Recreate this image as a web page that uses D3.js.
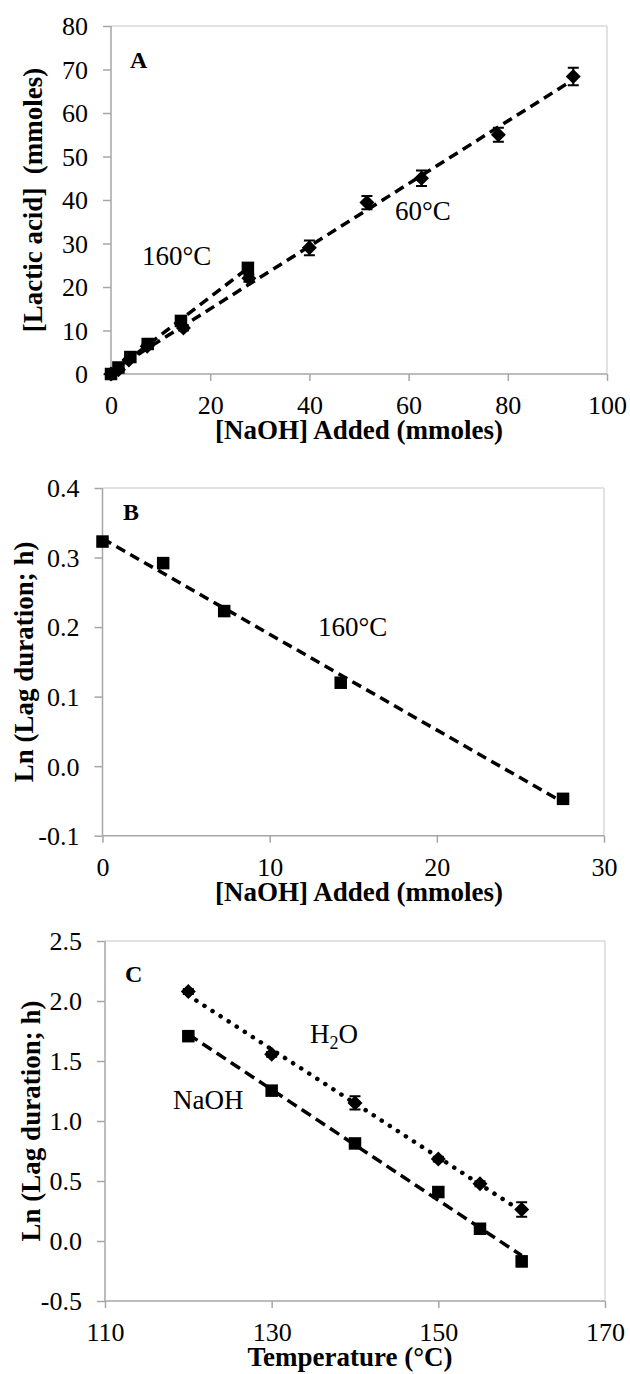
<!DOCTYPE html>
<html><head><meta charset="utf-8">
<script src="https://cdn.jsdelivr.net/npm/d3@7"></script>
<style>body{margin:0;background:#fff}svg{display:block}text{font-family:'Liberation Serif','Times New Roman',serif}</style>
</head><body><svg id="c" width="630" height="1374"></svg>
<script>
// ---------- Panel A data ----------
const aX60  = [0, 1.5, 3.6, 7.3, 14.6, 27.8, 40.0, 51.6, 62.6, 78.1, 93.2];
const aY60  = [0, 1.0, 3.2, 6.4, 10.6, 22.0, 29.0, 39.4, 45.0, 55.0, 68.4];
const aE60  = [0.3, 0.3, 0.3, 0.5, 0.6, 0.8, 1.7, 1.5, 1.8, 1.6, 2.0];
const aX160 = [0, 1.5, 3.9, 7.4, 14.1, 27.6];
const aY160 = [0, 1.5, 3.9, 6.9, 12.2, 24.4];
const aE160 = [0.2, 0.2, 0.3, 0.4, 0.6, 1.0];
const aXTicks = [0, 20, 40, 60, 80, 100];
const aYTicks = [0, 10, 20, 30, 40, 50, 60, 70, 80];
// ---------- Panel B data ----------
const bX = [0, 3.63, 7.28, 14.25, 27.55];
const bY = [0.323, 0.292, 0.223, 0.120, -0.047];
const bXTicks = [0, 10, 20, 30];
const bYTicks = [-0.1, 0.0, 0.1, 0.2, 0.3, 0.4];
// ---------- Panel C data ----------
const cT     = [120, 130, 140, 150, 155, 160];
const cH2O   = [2.079, 1.556, 1.151, 0.683, 0.477, 0.262];
const cH2OE  = [0.02, 0.02, 0.055, 0.02, 0.02, 0.06];
const cNaOH  = [1.707, 1.253, 0.813, 0.408, 0.102, -0.17];
const cNaOHE = [0.02, 0.02, 0.02, 0.04, 0.02, 0.04];
const cXTicks = [110, 130, 150, 170];
const cYTicks = [-0.5, 0.0, 0.5, 1.0, 1.5, 2.0, 2.5];

const svg = d3.select("#c");
svg.append("rect").attr("width", 630).attr("height", 1374).attr("fill", "#fff");
const SERIF = "'Liberation Serif','Times New Roman',serif";

function fit(xs, ys) {
  const mx = d3.mean(xs), my = d3.mean(ys);
  let sxy = 0, sxx = 0;
  xs.forEach((x, i) => { sxy += (x - mx) * (ys[i] - my); sxx += (x - mx) * (x - mx); });
  const b = sxy / sxx;
  return { b, a: my - b * mx };
}

function panel(o) {
  const g = svg.append("g");
  const x = d3.scaleLinear().domain(o.xDom).range([o.left, o.right]);
  const y = d3.scaleLinear().domain(o.yDom).range([o.bottom, o.top]);
  g.append("line").attr("x1", o.left).attr("x2", o.right).attr("y1", o.top).attr("y2", o.top)
    .attr("stroke", "#d9d9d9").attr("stroke-width", 1.5);
  g.append("line").attr("x1", o.right).attr("x2", o.right).attr("y1", o.top).attr("y2", o.bottom)
    .attr("stroke", "#d9d9d9").attr("stroke-width", 1.5);
  const ax = g.append("g").attr("transform", `translate(0,${o.bottom})`)
    .call(d3.axisBottom(x).tickValues(o.xTicks).tickSize(7).tickPadding(0).tickFormat(o.xFmt));
  const ay = g.append("g").attr("transform", `translate(${o.left},0)`)
    .call(d3.axisLeft(y).tickValues(o.yTicks).tickSize(8).tickPadding(15).tickFormat(o.yFmt));
  [ax, ay].forEach(a => {
    a.attr("font-family", SERIF).attr("font-size", 26);
    a.select(".domain").attr("stroke", "#a6a6a6").attr("stroke-width", 1.5);
    a.selectAll(".tick line").attr("stroke", "#a6a6a6").attr("stroke-width", 1.5);
    a.selectAll("text").style("font-family", SERIF).style("font-size", "26px").attr("fill", "#000");
  });
  ax.select(".domain").attr("d", `M${o.left},0H${o.right}`);
  ay.select(".domain").attr("d", `M0,${o.top}V${o.bottom}`);
  ax.selectAll("text").attr("y", 31).attr("dy", "0.34em");
  ay.selectAll("text").attr("dy", "0.34em");
  g.append("text").attr("x", o.xTitleX).attr("y", o.bottom + 65).attr("text-anchor", "middle")
    .style("font-family", SERIF).attr("font-weight", "bold").attr("font-size", 27).text(o.xTitle);
  g.append("text").attr("transform", `translate(${o.yTitleX},${(o.top + o.bottom) / 2}) rotate(-90)`)
    .attr("text-anchor", "middle").style("font-family", SERIF).attr("font-weight", "bold")
    .attr("font-size", 27).style("white-space", "pre").text(o.yTitle);
  g.append("text").attr("x", o.letterX).attr("y", o.letterY).style("font-family", SERIF)
    .attr("font-weight", "bold").attr("font-size", 24).text(o.letter);
  return { g, x, y };
}

function trend(p, xs, ys, dash, width, cap) {
  const f = fit(xs, ys);
  const x0 = d3.min(xs), x1 = d3.max(xs);
  p.g.append("line")
    .attr("x1", p.x(x0)).attr("y1", p.y(f.a + f.b * x0))
    .attr("x2", p.x(x1)).attr("y2", p.y(f.a + f.b * x1))
    .attr("stroke", "#000").attr("stroke-width", width)
    .attr("stroke-dasharray", dash).attr("stroke-linecap", cap || "butt");
}
function errbars(p, xs, ys, es) {
  xs.forEach((xv, i) => {
    const e = es[i];
    const cx = p.x(xv), y1 = p.y(ys[i] + e), y2 = p.y(ys[i] - e);
    p.g.append("path").attr("d", `M${cx},${y1}V${y2}M${cx - 5.5},${y1}H${cx + 5.5}M${cx - 5.5},${y2}H${cx + 5.5}`)
      .attr("stroke", "#000").attr("stroke-width", 2).attr("fill", "none");
  });
}
function diamonds(p, xs, ys) {
  const r = 7.5;
  xs.forEach((xv, i) => {
    const cx = p.x(xv), cy = p.y(ys[i]);
    p.g.append("path").attr("d", `M${cx},${cy - r}L${cx + r},${cy}L${cx},${cy + r}L${cx - r},${cy}Z`).attr("fill", "#000");
  });
}
function squares(p, xs, ys) {
  const s = 12.5;
  xs.forEach((xv, i) => {
    p.g.append("rect").attr("x", p.x(xv) - s / 2).attr("y", p.y(ys[i]) - s / 2)
      .attr("width", s).attr("height", s).attr("fill", "#000");
  });
}
function label(p, x, y, t, size) {
  return p.g.append("text").attr("x", x).attr("y", y).style("font-family", SERIF)
    .attr("font-size", size || 27).attr("fill", "#000").text(t);
}

const f0 = d => d3.format("d")(d);
const f1 = d => d.toFixed(1);

// ---------- Panel A ----------
const A = panel({ left: 111, right: 607, top: 26, bottom: 374, xDom: [0, 100], yDom: [0, 80],
  xTicks: aXTicks, yTicks: aYTicks, xFmt: f0, yFmt: f0,
  xTitle: "[NaOH] Added (mmoles)", xTitleX: 359, yTitle: "[Lactic acid]  (mmoles)", yTitleX: 42,
  letter: "A", letterX: 130, letterY: 68 });
trend(A, aX60, aY60, "10,6", 3.5);
trend(A, aX160, aY160, "10,6", 3.5);
errbars(A, aX60, aY60, aE60);
errbars(A, aX160, aY160, aE160);
diamonds(A, aX60, aY60);
squares(A, aX160, aY160);
label(A, 142, 265, "160°C");
label(A, 395, 220, "60°C");

// ---------- Panel B ----------
const B = panel({ left: 102.5, right: 604, top: 488, bottom: 835.7, xDom: [0, 30], yDom: [-0.1, 0.4],
  xTicks: bXTicks, yTicks: bYTicks, xFmt: f0, yFmt: f1,
  xTitle: "[NaOH] Added (mmoles)", xTitleX: 359, yTitle: "Ln (Lag duration; h)", yTitleX: 33,
  letter: "B", letterX: 123, letterY: 520 });
trend(B, bX, bY, "10,6", 3.5);
squares(B, bX, bY);
label(B, 318, 636, "160°C");

// ---------- Panel C ----------
const C = panel({ left: 105, right: 605, top: 941, bottom: 1301, xDom: [110, 170], yDom: [-0.5, 2.5],
  xTicks: cXTicks, yTicks: cYTicks, xFmt: f0, yFmt: f1,
  xTitle: "Temperature (°C)", xTitleX: 350, yTitle: "Ln (Lag duration; h)", yTitleX: 40,
  letter: "C", letterX: 125, letterY: 982 });
trend(C, cT, cH2O, "0.1,9.5", 4.5, "round");
trend(C, cT, cNaOH, "11,6", 3.5);
errbars(C, cT, cH2O, cH2OE);
errbars(C, cT, cNaOH, cNaOHE);
diamonds(C, cT, cH2O);
squares(C, cT, cNaOH);
const h2o = label(C, 310, 1043, "H");
h2o.append("tspan").attr("font-size", 18).attr("dy", 6).text("2");
h2o.append("tspan").attr("dy", -6).text("O");
label(C, 173, 1109, "NaOH");
</script>
</body></html>
